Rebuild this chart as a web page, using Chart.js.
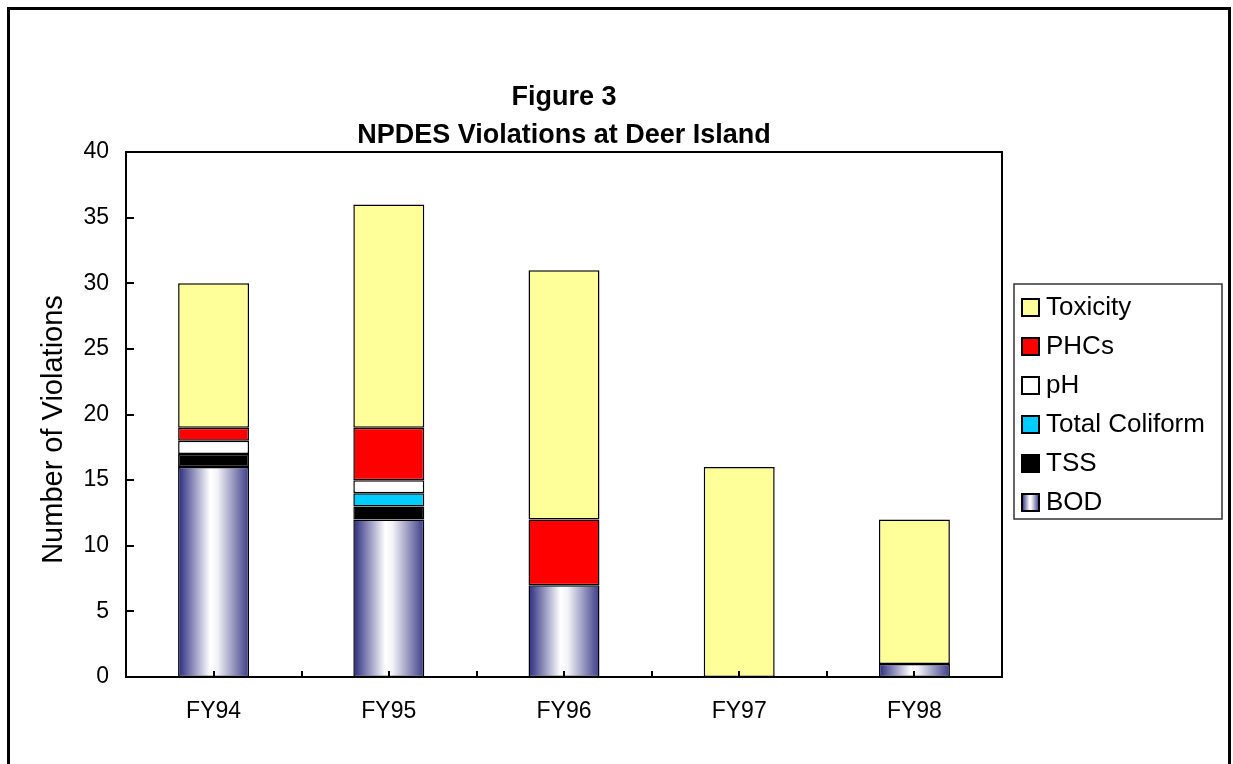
<!DOCTYPE html>
<html>
<head>
<meta charset="utf-8">
<script src="https://cdn.jsdelivr.net/npm/chart.js@4/dist/chart.umd.min.js"></script>
<style>
  html, body { margin: 0; padding: 0; background: #fff; }
</style>
</head>
<body>
<canvas id="violationsChart" width="1233" height="764"></canvas>
<script>
// data
const years = ['FY94', 'FY95', 'FY96', 'FY97', 'FY98'];
const bod = [16, 12, 7, 0, 1];
const tss = [1, 1, 0, 0, 0];
const coliform = [0, 1, 0, 0, 0];
const ph = [1, 1, 0, 0, 0];
const phcs = [1, 4, 5, 0, 0];
const toxicity = [11, 17, 19, 16, 11];

const yMin = 0, yMax = 40, yStep = 5;
const yTitle = 'Number of Violations';

const FONT = '"Liberation Sans", Arial, Helvetica, sans-serif';
const BAR_PCT = 0.405;
const NAVY = '#2a2a80';

// horizontal navy -> white -> navy fill used for BOD
function bodGradient(c, left, right) {
    const g = c.createLinearGradient(left, 0, right, 0);
    g.addColorStop(0, NAVY);
    g.addColorStop(0.45, '#ffffff');
    g.addColorStop(0.55, '#f4f4f8');
    g.addColorStop(1, '#3c3c88');
    return g;
}

function bodFill(ctx) {
    const chart = ctx.chart;
    const xs = chart.scales.x;
    if (!xs || !chart.chartArea || ctx.type !== 'data') return NAVY;
    const cx = xs.getPixelForValue(ctx.dataIndex);
    const half = xs.width / years.length * BAR_PCT / 2;
    if (!isFinite(cx) || !isFinite(half) || half <= 0) return NAVY;
    return bodGradient(chart.ctx, cx - half, cx + half);
}

const series = [
    { label: 'BOD', data: bod, backgroundColor: bodFill, legendFill: 'bod' },
    { label: 'TSS', data: tss, backgroundColor: '#000000' },
    { label: 'Total Coliform', data: coliform, backgroundColor: '#00ccff' },
    { label: 'pH', data: ph, backgroundColor: '#ffffff' },
    { label: 'PHCs', data: phcs, backgroundColor: '#ff0000' },
    { label: 'Toxicity', data: toxicity, backgroundColor: '#ffff99' }
];

// plot box, inside tick marks, axis title, outer frame and boxed legend
const framePlugin = {
    id: 'frame',
    afterDatasetsDraw(chart) {
        const { ctx, chartArea: a, scales: { x, y } } = chart;
        ctx.save();
        ctx.strokeStyle = '#000';
        ctx.lineWidth = 2;
        ctx.strokeRect(a.left, a.top, a.right - a.left, a.bottom - a.top);

        ctx.beginPath();
        for (let v = yMin; v <= yMax; v += yStep) {
            const py = Math.round(y.getPixelForValue(v));
            ctx.moveTo(a.left, py);
            ctx.lineTo(a.left + 8, py);
        }
        const step = x.width / years.length;
        years.forEach((_, i) => {
            const px = Math.round(x.getPixelForValue(i));
            ctx.moveTo(px, a.bottom);
            ctx.lineTo(px, a.bottom - 6);
            if (i < years.length - 1) {
                ctx.moveTo(Math.round(px + step / 2), a.bottom);
                ctx.lineTo(Math.round(px + step / 2), a.bottom - 6);
            }
        });
        ctx.stroke();

        // y axis title, sits a little below the middle of the axis in the original
        ctx.translate(54, a.top + (a.bottom - a.top) / 2 + 15);
        ctx.rotate(-Math.PI / 2);
        ctx.font = '29px ' + FONT;
        ctx.fillStyle = '#000';
        ctx.textAlign = 'center';
        ctx.textBaseline = 'middle';
        ctx.fillText(yTitle, 0, 0);
        ctx.restore();
    },
    afterDraw(chart) {
        const ctx = chart.ctx;
        ctx.save();
        // outer frame
        ctx.strokeStyle = '#000';
        ctx.lineWidth = 3;
        ctx.strokeRect(8.5, 8.5, 1221, 800);

        // legend
        const lx = 1014, ly = 284, lw = 208, lh = 235;
        ctx.lineWidth = 1.5;
        ctx.strokeStyle = '#333';
        ctx.strokeRect(lx, ly, lw, lh);

        ctx.font = '26px ' + FONT;
        ctx.textBaseline = 'middle';
        const items = chart.data.datasets.slice().reverse();
        items.forEach((ds, i) => {
            const cy = ly + 23 + i * 39;
            const bx = 1022, by = cy - 8, bs = 17;
            ctx.fillStyle = ds.legendFill === 'bod' ? bodGradient(ctx, bx, bx + bs) : ds.backgroundColor;
            ctx.fillRect(bx, by, bs, bs);
            ctx.lineWidth = 2;
            ctx.strokeStyle = '#000';
            ctx.strokeRect(bx, by, bs, bs);
            ctx.fillStyle = '#000';
            ctx.fillText(ds.label, 1046, cy + 1);
        });
        ctx.restore();
    }
};

new Chart(document.getElementById('violationsChart'), {
    type: 'bar',
    data: {
        labels: years,
        datasets: series.map(s => ({
            label: s.label,
            data: s.data,
            backgroundColor: s.backgroundColor,
            legendFill: s.legendFill,
            borderColor: '#000000',
            borderWidth: 1.5,
            borderSkipped: false,
            barPercentage: BAR_PCT,
            categoryPercentage: 1
        }))
    },
    options: {
        responsive: false,
        animation: false,
        layout: {
            padding: { left: 0, right: 231, top: 0, bottom: 27 }
        },
        scales: {
            x: {
                stacked: true,
                grid: { display: false, drawTicks: false },
                border: { display: false },
                ticks: { color: '#000', font: { family: FONT, size: 23 }, padding: 21 },
                afterFit(scale) { scale.height = 60; }
            },
            y: {
                stacked: true,
                min: yMin,
                max: yMax,
                grid: { display: false, drawTicks: false },
                border: { display: false },
                ticks: { stepSize: yStep, color: '#000', font: { family: FONT, size: 23 }, padding: 17 },
                afterFit(scale) { scale.width = 126; }
            }
        },
        plugins: {
            legend: { display: false },
            tooltip: { enabled: false },
            title: {
                display: true,
                fullSize: false,
                text: ['Figure 3', 'NPDES Violations at Deer Island'],
                color: '#000',
                font: { family: FONT, size: 27, weight: 'bold', lineHeight: 38 / 27 },
                padding: { top: 79, bottom: -3 }
            }
        }
    },
    plugins: [framePlugin]
});
</script>
</body>
</html>
